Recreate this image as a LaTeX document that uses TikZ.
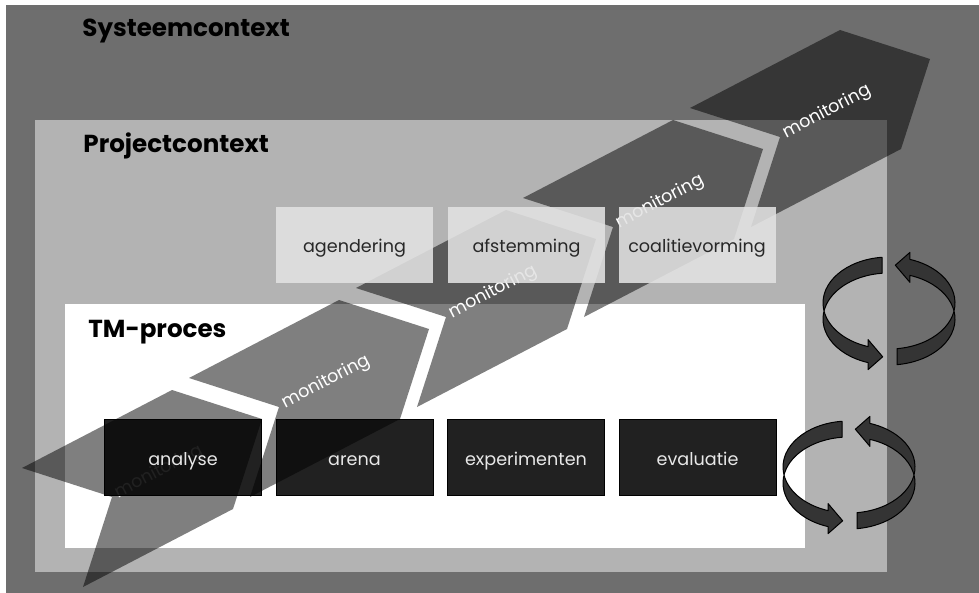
\documentclass[tikz,border=0pt]{standalone}
\usepackage{fontspec}
\setmainfont{Poppins}
\usetikzlibrary{calc}

\begin{document}
\begin{tikzpicture}[x=0.5pt,y=-0.5pt,
	context/.style={font=\fontsize{12.3}{14}\selectfont\bfseries,anchor=base west,inner sep=0pt},
	topbox/.style={fill=boxlight,fill opacity=0.87,text opacity=1,text=boxtext,minimum width=78.5pt,minimum height=38pt,inner sep=0pt,text height=8pt,text depth=0pt,font=\fontsize{8.8}{10}\selectfont},
	procbox/.style={fill=black,fill opacity=0.87,text opacity=1,draw=black,line width=0.5pt,text=procfont,minimum width=78.5pt,minimum height=38pt,inner sep=0pt,text height=7.5pt,text depth=0pt,font=\fontsize{8.8}{10}\selectfont},
	monlabel/.style={text=white,rotate=27.5,inner sep=0pt,font=\fontsize{8.8}{10}\selectfont},
	chevron/.style={fill=black,fill opacity=0.5},
	ringarrow/.style={fill=ringgray,draw=black,line width=0.5pt,line join=round}]
	\definecolor{sysgray}{RGB}{110,110,110}
	\definecolor{projgray}{RGB}{179,179,179}
	\definecolor{boxlight}{RGB}{227,227,227}
	\definecolor{boxtext}{RGB}{40,40,40}
	\definecolor{procfont}{RGB}{232,232,232}
	\definecolor{ringgray}{RGB}{52,52,52}

	\useasboundingbox (0,0) rectangle (979,593);
	\fill[white] (0,0) rectangle (979,593);
	\fill[sysgray] (6,5) rectangle (979,593);
	\fill[projgray] (35,120) rectangle (887,572);
	\fill[white] (65,304) rectangle (805,548);

	% chevrons
	\foreach \x/\y [count=\i] in {22/468,189/378,356/288,523/198,690/108} {
		\fill[chevron] (\x,\y) -- ++(150,-78) -- ++(90,29) -- ++(-29,90) -- ++(-150,78) -- ++(29,-90) -- cycle;
		\node[monlabel] (mon\i) at (\x+137,\y+4) {monitoring};
	}

	\node[context] (sys) at (82,37) {Systeemcontext};
	\node[context] (proj) at (83,153) {Projectcontext};
	\node[context] (tm) at (88,337) {TM-proces};

	\node[topbox] (agendering) at (354.5,245) {agendering};
	\node[topbox] (afstemming) at (526.5,245) {afstemming};
	\node[topbox] (coalitievorming) at (697,245) {coalitievorming};

	\node[procbox] (analyse) at (183,457.5) {analyse};
	\node[procbox] (arena) at (354.5,457.5) {arena};
	\node[procbox] (experimenten) at (526,457.5) {experimenten};
	\node[procbox] (evaluatie) at (697.5,457.5) {evaluatie};

	% cycle arrows
	\foreach \cx/\cy in {889/303,849/467} {
		\coordinate (ra) at (\cx,\cy);
		\coordinate (rm) at (\cx,\cy+8);
		\coordinate (rb) at (\cx,\cy+16);
		\filldraw[ringarrow] ($(ra)+(263.9:66 and 46)$) arc[start angle=263.9,end angle=108.5,x radius=66,y radius=46]
			-- ($(ra)+(108.5:66 and 46)+(0,-7)$) -- ($(rm)+(95.5:66 and 46)$) -- ($(rb)+(108.5:66 and 46)+(0,7)$)
			-- ($(rb)+(108.5:66 and 46)$) arc[start angle=108.5,end angle=263.9,x radius=66,y radius=46] -- cycle;
		\filldraw[ringarrow] ($(ra)+(83:66 and 46)$) arc[start angle=83,end angle=-71.5,x radius=66,y radius=46]
			-- ($(ra)+(-71.5:66 and 46)+(0,-7)$) -- ($(rm)+(-84.5:66 and 46)$) -- ($(rb)+(-71.5:66 and 46)+(0,7)$)
			-- ($(rb)+(-71.5:66 and 46)$) arc[start angle=-71.5,end angle=83,x radius=66,y radius=46] -- cycle;
	}
\end{tikzpicture}
\end{document}
